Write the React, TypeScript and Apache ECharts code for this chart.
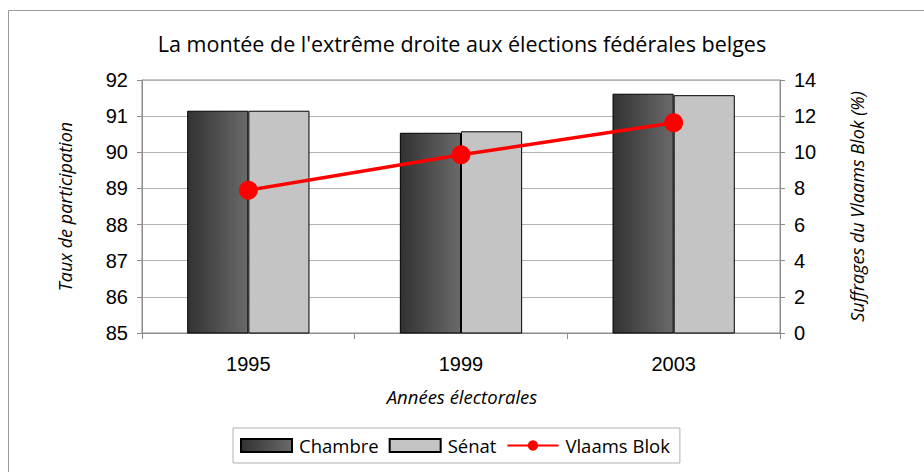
import React, { useEffect, useRef } from "react";
import * as echarts from "echarts";

const years = ["1995", "1999", "2003"];
const chambre = [91.15, 90.54, 91.62];
const senat = [91.15, 90.58, 91.58];
const vlaamsBlok = [7.9, 9.86, 11.64];
const leftTicks = { min: 85, max: 92, interval: 1 };
const rightTicks = { min: 0, max: 14, interval: 2 };

const axisFont = "'Liberation Sans', Arial, sans-serif";
const textFont = "'Open Sans', 'Noto Sans', sans-serif";

export default function App() {
  const ref = useRef<HTMLDivElement>(null);
  useEffect(() => {
    if (!ref.current) return;
    document.body.style.margin = "0";
    const chart = echarts.init(ref.current, undefined, { renderer: "svg" });
    const darkGrad = new echarts.graphic.LinearGradient(0, 0, 1, 0, [
      { offset: 0, color: "#323232" },
      { offset: 1, color: "#6a6a6a" },
    ]);
    chart.setOption({
      animation: false,
      backgroundColor: "#ffffff",
      title: {
        text: "La montée de l'extrême droite aux élections fédérales belges",
        left: "center",
        top: 27,
        textStyle: { fontFamily: textFont, fontSize: 21.5, fontWeight: "normal", color: "#000" },
      },
      graphic: [
        {
          type: "rect",
          shape: { x: 8.5, y: 10.5, width: 960, height: 520 },
          style: { fill: "none", stroke: "#9a9a9a", lineWidth: 1 },
          silent: true,
          z: -1,
        },
        {
          type: "text",
          left: "center",
          top: 387,
          style: {
            text: "Années électorales",
            font: "italic 18.5px " + textFont,
            fill: "#000",
          },
        },
      ],
      legend: {
        bottom: 9,
        left: 233,
        itemWidth: 51,
        itemHeight: 13,
        itemGap: 10,
        padding: [8, 10, 8, 7],
        borderColor: "#b0b0b0",
        borderWidth: 1,
        textStyle: { fontFamily: textFont, fontSize: 18.5, color: "#000", padding: [0, 0, 0, 2] },
        data: [
          { name: "Chambre", icon: "rect" },
          { name: "Sénat", icon: "rect" },
          { name: "Vlaams Blok" },
        ],
      },
      grid: {
        left: 142,
        right: 144,
        top: 80,
        bottom: 139,
        show: true,
        borderColor: "#8c8c8c",
        borderWidth: 1,
        backgroundColor: "#fff",
      },
      xAxis: {
        type: "category",
        data: years,
        boundaryGap: true,
        axisLine: { lineStyle: { color: "#8c8c8c" } },
        axisTick: { show: true, length: 6, lineStyle: { color: "#8c8c8c" } },
        axisLabel: { fontFamily: axisFont, fontSize: 20, color: "#000", margin: 21 },
      },
      yAxis: [
        {
          type: "value",
          ...leftTicks,
          name: "Taux de participation",
          nameLocation: "middle",
          nameGap: 68,
          nameRotate: 90,
          nameTextStyle: { fontFamily: textFont, fontStyle: "italic", fontSize: 18, color: "#000" },
          axisLine: { show: true, lineStyle: { color: "#8c8c8c" } },
          axisTick: { show: true, length: 5, lineStyle: { color: "#8c8c8c" } },
          axisLabel: { fontFamily: axisFont, fontSize: 20, color: "#000", margin: 14 },
          splitLine: { show: true, lineStyle: { color: "#b4b4b4" } },
        },
        {
          type: "value",
          ...rightTicks,
          name: "Suffrages du Vlaams Blok (%)",
          nameLocation: "middle",
          nameGap: 68,
          nameRotate: 90,
          nameTextStyle: { fontFamily: textFont, fontStyle: "italic", fontSize: 18, color: "#000" },
          axisLine: { show: true, lineStyle: { color: "#8c8c8c" } },
          axisTick: { show: true, length: 5, lineStyle: { color: "#8c8c8c" } },
          axisLabel: { fontFamily: axisFont, fontSize: 20, color: "#000", margin: 14 },
          splitLine: { show: false },
        },
      ],
      series: [
        {
          name: "Chambre",
          type: "bar",
          yAxisIndex: 0,
          data: chambre,
          barGap: "0%",
          barCategoryGap: "42.5%",
          itemStyle: { color: darkGrad, borderColor: "#000", borderWidth: 1 },
        },
        {
          name: "Sénat",
          type: "bar",
          yAxisIndex: 0,
          data: senat,
          itemStyle: { color: "#c4c4c4", borderColor: "#000", borderWidth: 1 },
        },
        {
          name: "Vlaams Blok",
          type: "line",
          yAxisIndex: 1,
          data: vlaamsBlok,
          symbol: "circle",
          symbolSize: 19,
          lineStyle: { color: "#ff0000", width: 3.5 },
          itemStyle: { color: "#ff0000" },
          z: 5,
        },
      ],
    });
    return () => chart.dispose();
  }, []);
  return (
    <div
      ref={ref}
      style={{ position: "absolute", left: 0, top: 0, width: 924, height: 472 }}
    />
  );
}
